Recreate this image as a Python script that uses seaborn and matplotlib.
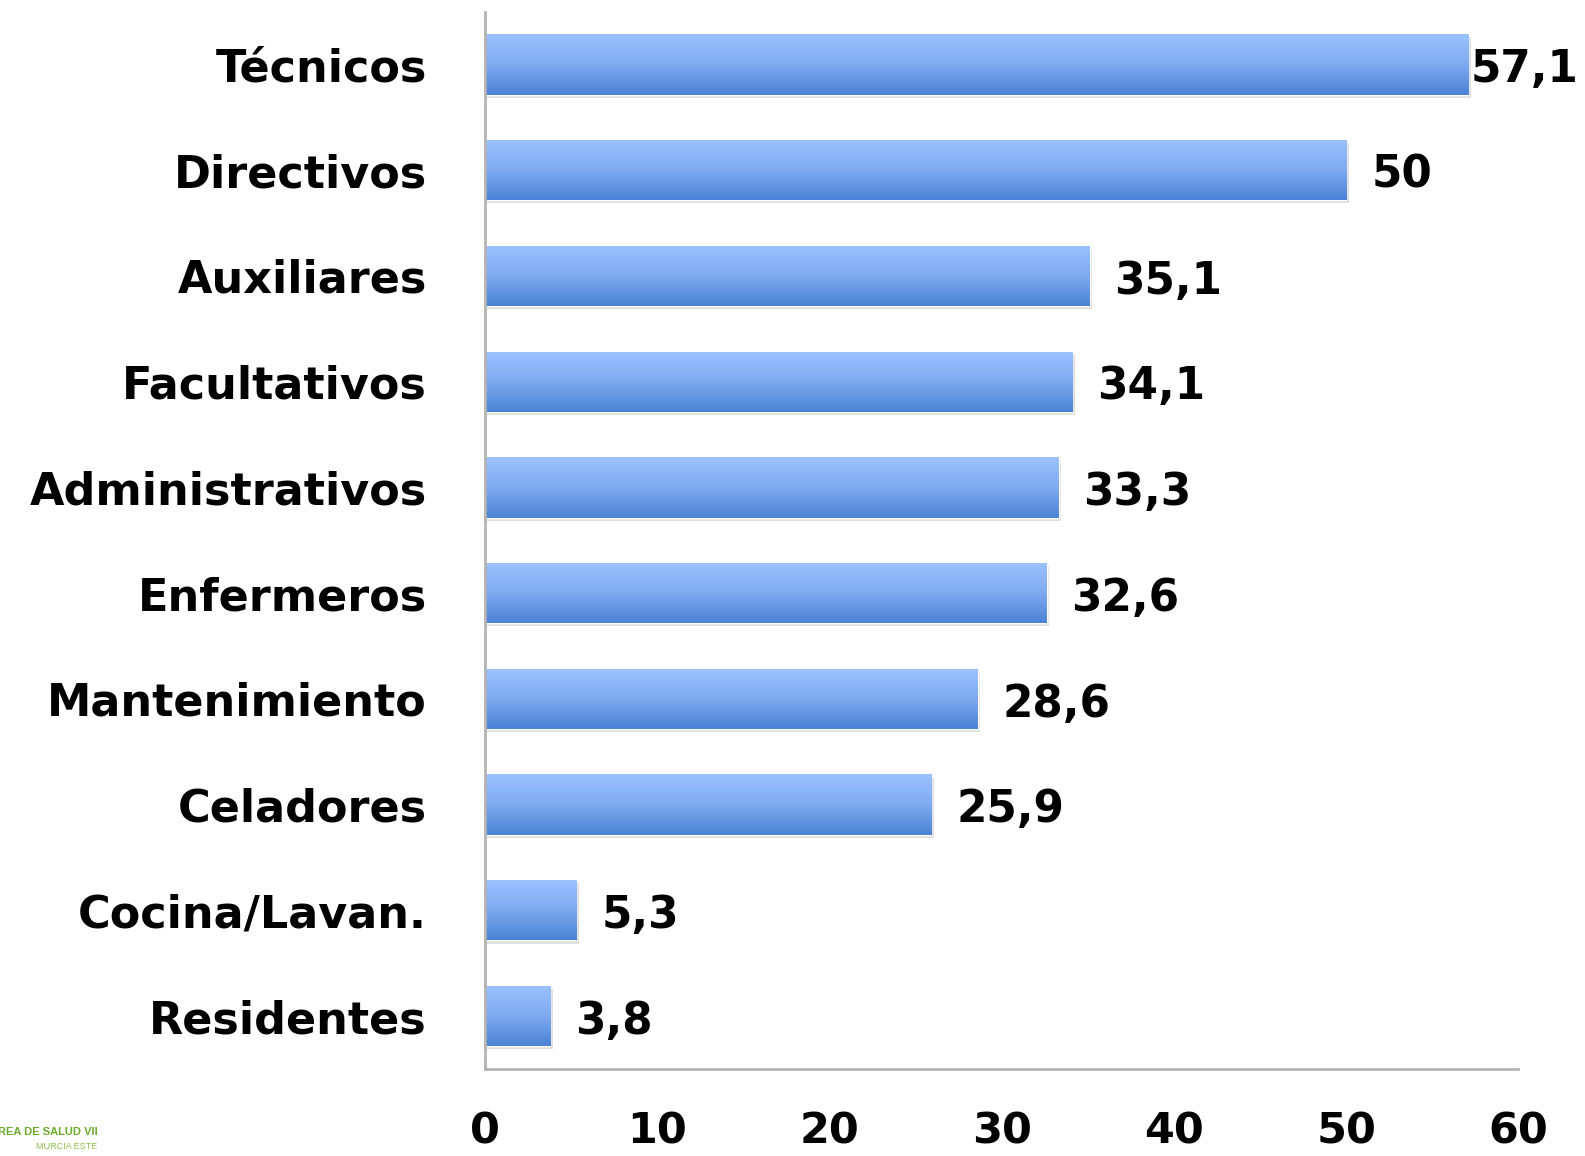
import matplotlib
matplotlib.use("Agg")
import matplotlib.pyplot as plt
import matplotlib.colors as mcolors
import numpy as np
import pandas as pd
import seaborn as sns

# datos
categorias = ["Técnicos", "Directivos", "Auxiliares", "Facultativos", "Administrativos",
              "Enfermeros", "Mantenimiento", "Celadores", "Cocina/Lavan.", "Residentes"]
valores = [57.1, 50, 35.1, 34.1, 33.3, 32.6, 28.6, 25.9, 5.3, 3.8]
etiquetas = ["57,1", "50", "35,1", "34,1", "33,3", "32,6", "28,6", "25,9", "5,3", "3,8"]
ticks_x = [0, 10, 20, 30, 40, 50, 60]

df = pd.DataFrame({"categoria": categorias, "valor": valores})

sns.set_style("white")
plt.rcParams["font.family"] = ["DejaVu Sans"]
plt.rcParams["font.weight"] = "bold"

fig = plt.figure(figsize=(15.85, 11.56), dpi=100)
ax = fig.add_axes([0.306, 0.0753, 0.652, 0.9147])

sns.barplot(data=df, x="valor", y="categoria", orient="h", color="#6d9fe8",
            width=0.57, ax=ax, saturation=1)

# degradado vertical en cada barra
cmap = mcolors.LinearSegmentedColormap.from_list("azul", ["#9dc3ff", "#7eaaf0", "#4a82d4"])
grad = np.linspace(0, 1, 256).reshape(-1, 1)
for p in ax.patches:
    x0, y0 = p.get_x(), p.get_y()
    w, h = p.get_width(), p.get_height()
    # sombra
    sh = plt.Rectangle((x0, y0 + 0.03), w + 0.15, h, color="#000000", alpha=0.12,
                       zorder=p.get_zorder() - 0.1, linewidth=0)
    ax.add_patch(sh)
    im = ax.imshow(grad, cmap=cmap, aspect="auto", extent=(x0, x0 + w, y0 + h, y0),
                   zorder=p.get_zorder() + 0.1, origin="upper")
    im.set_clip_path(p)

ax.set_xlim(0, 60)
ax.set_ylim(9.5, -0.5)

# etiquetas de valor
for i, (v, t) in enumerate(zip(valores, etiquetas)):
    off = 1.45 if v < 55 else 0.1
    ax.text(v + off, i + 0.05, t, va="center", ha="left", fontsize=31.5,
            fontweight="bold", color="#000000")

ax.set_xticks(ticks_x)
ax.set_xticklabels([str(t) for t in ticks_x], fontsize=31, fontweight="bold", color="#000000")
ax.tick_params(axis="x", length=0, pad=30)
ax.tick_params(axis="y", length=0, pad=42, labelsize=32, labelcolor="#000000")
for lab in ax.get_yticklabels():
    lab.set_fontweight("bold")
ax.set_xlabel("")
ax.set_ylabel("")

sns.despine(ax=ax, top=True, right=True)
ax.spines["left"].set_color("#b3b3b3")
ax.spines["bottom"].set_color("#b3b3b3")
ax.spines["left"].set_linewidth(2)
ax.spines["bottom"].set_linewidth(2)

# logo
fig.text(0.0615, 0.0205, "ÁREA DE SALUD VII", ha="right", va="center", fontsize=8,
         color="#6aaa2a", fontweight="bold", family=["Liberation Sans"])
fig.text(0.0615, 0.0085, "MURCIA ESTE", ha="right", va="center", fontsize=6.5,
         color="#8cc04a", fontweight="normal", family=["Liberation Sans"])

fig.savefig("out.png", dpi=100)
